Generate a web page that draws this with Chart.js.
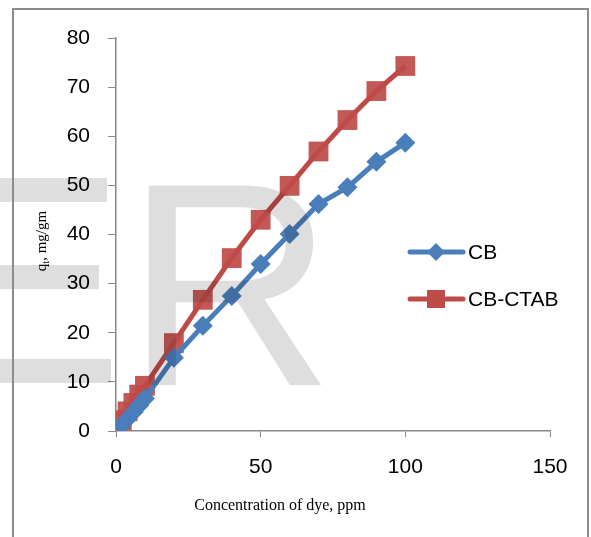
<!DOCTYPE html>
<html>
<head>
<meta charset="utf-8">
<script src="https://cdn.jsdelivr.net/npm/chart.js@4.4.0/dist/chart.umd.min.js"></script>
<style>
  html, body { margin: 0; padding: 0; background: #fff; }
</style>
</head>
<body>
<canvas id="myChart" width="591" height="537"></canvas>
<script>
const concentration = [2, 4, 6, 8, 10, 20, 30, 40, 50, 60, 70, 80, 90, 100];
const qtCB = [1.2, 2.5, 3.8, 5.2, 6.6, 14.9, 21.4, 27.5, 34, 40.1, 46.2, 49.6, 54.8, 58.7];
const qtCBCTAB = [2.2, 4, 5.7, 7.4, 9.2, 17.9, 26.7, 35.2, 43, 49.9, 56.9, 63.3, 69.2, 74.3];
const xTicks = [0, 50, 100, 150];
const seriesNames = ["CB", "CB-CTAB"];
const seriesColors = ["#4a7ebb", "#be4b48"];

const tickFont = { family: "'Liberation Sans', Arial, sans-serif", size: 21 };
const axisGrey = "#888888";

function toPoints(ys) {
  return concentration.map((x, i) => ({ x: x, y: ys[i] }));
}

// watermark, frame, axis titles and legend
const decor = {
  id: "decor",
  afterDraw(chart) {
    const ctx = chart.ctx;
    ctx.save();

    // faint watermark
    ctx.fillStyle = "rgba(0,0,0,0.13)";
    ctx.fillRect(0, 178, 107, 24);
    ctx.fillRect(0, 265, 99, 24);
    ctx.fillRect(0, 359, 111, 24);
    ctx.font = "290px 'Liberation Sans', Arial, sans-serif";
    ctx.textBaseline = "alphabetic";
    ctx.textAlign = "left";
    ctx.fillText("R", 125, 385);

    // frame
    ctx.strokeStyle = "#8c8c8c";
    ctx.lineWidth = 2;
    ctx.beginPath();
    ctx.moveTo(13, 537);
    ctx.lineTo(13, 9);
    ctx.lineTo(588, 9);
    ctx.lineTo(588, 537);
    ctx.stroke();

    // x title
    ctx.fillStyle = "#000";
    ctx.font = "16px 'Liberation Serif', 'Times New Roman', serif";
    ctx.textAlign = "center";
    ctx.textBaseline = "alphabetic";
    ctx.fillText("Concentration of dye, ppm", 280, 510);

    // y title q_t, mg/gm
    ctx.translate(46, 241);
    ctx.rotate(-Math.PI / 2);
    const f = "'Liberation Serif', 'Times New Roman', serif";
    ctx.font = "15px " + f;
    const w1 = ctx.measureText("q").width;
    const w3 = ctx.measureText(", mg/gm").width;
    ctx.font = "10px " + f;
    const w2 = ctx.measureText("t").width;
    let x0 = -(w1 + w2 + w3) / 2;
    ctx.textAlign = "left";
    ctx.font = "15px " + f;
    ctx.fillText("q", x0, 0);
    ctx.font = "10px " + f;
    ctx.fillText("t", x0 + w1, 3);
    ctx.font = "15px " + f;
    ctx.fillText(", mg/gm", x0 + w1 + w2, 0);
    ctx.setTransform(1, 0, 0, 1, 0, 0);

    // legend
    const rows = [252, 299];
    for (let i = 0; i < seriesNames.length; i++) {
      const y = rows[i];
      ctx.strokeStyle = seriesColors[i];
      ctx.lineWidth = 5;
      ctx.lineCap = "round";
      ctx.beginPath();
      ctx.moveTo(410, y);
      ctx.lineTo(463, y);
      ctx.stroke();
      ctx.fillStyle = seriesColors[i];
      ctx.beginPath();
      if (i === 0) {
        ctx.moveTo(436, y - 9);
        ctx.lineTo(445, y);
        ctx.lineTo(436, y + 9);
        ctx.lineTo(427, y);
        ctx.closePath();
      } else {
        ctx.rect(427, y - 9, 18, 18);
      }
      ctx.fill();
      ctx.fillStyle = "#000";
      ctx.font = "21px 'Liberation Sans', Arial, sans-serif";
      ctx.textAlign = "left";
      ctx.textBaseline = "middle";
      ctx.fillText(seriesNames[i], 468, y + 1);
    }
    ctx.restore();
  }
};

new Chart(document.getElementById("myChart"), {
  type: "line",
  data: {
    datasets: [
      {
        label: seriesNames[0],
        data: toPoints(qtCB),
        borderColor: seriesColors[0],
        backgroundColor: seriesColors[0],
        borderWidth: 5,
        pointStyle: "rectRot",
        pointRadius: 10,
        pointBorderWidth: 0,
        tension: 0,
      },
      {
        label: seriesNames[1],
        data: toPoints(qtCBCTAB),
        borderColor: seriesColors[1],
        backgroundColor: "rgba(190,75,72,0.92)",
        borderWidth: 5,
        pointStyle: "rect",
        pointRadius: 14,
        pointBorderWidth: 0,
        tension: 0,
      },
    ],
  },
  options: {
    responsive: false,
    animation: false,
    layout: { padding: { left: 0, right: 41, top: 38, bottom: 0 } },
    plugins: {
      legend: { display: false },
      tooltip: { enabled: false },
    },
    scales: {
      x: {
        type: "linear",
        min: 0,
        max: 150,
        afterBuildTicks: (s) => { s.ticks = xTicks.map((v) => ({ value: v })); },
        afterFit: (s) => { s.height = 106; },
        ticks: { font: tickFont, color: "#000", padding: 18, maxRotation: 0 },
        grid: { drawOnChartArea: false, drawTicks: true, tickLength: 6, color: axisGrey },
        border: { color: axisGrey, width: 1.5 },
      },
      y: {
        min: 0,
        max: 80,
        afterFit: (s) => { s.width = 116; },
        ticks: { stepSize: 10, font: tickFont, color: "#000", padding: 18 },
        grid: { drawOnChartArea: false, drawTicks: true, tickLength: 8, color: axisGrey },
        border: { color: axisGrey, width: 1.5 },
      },
    },
  },
  plugins: [decor],
});
</script>
</body>
</html>
